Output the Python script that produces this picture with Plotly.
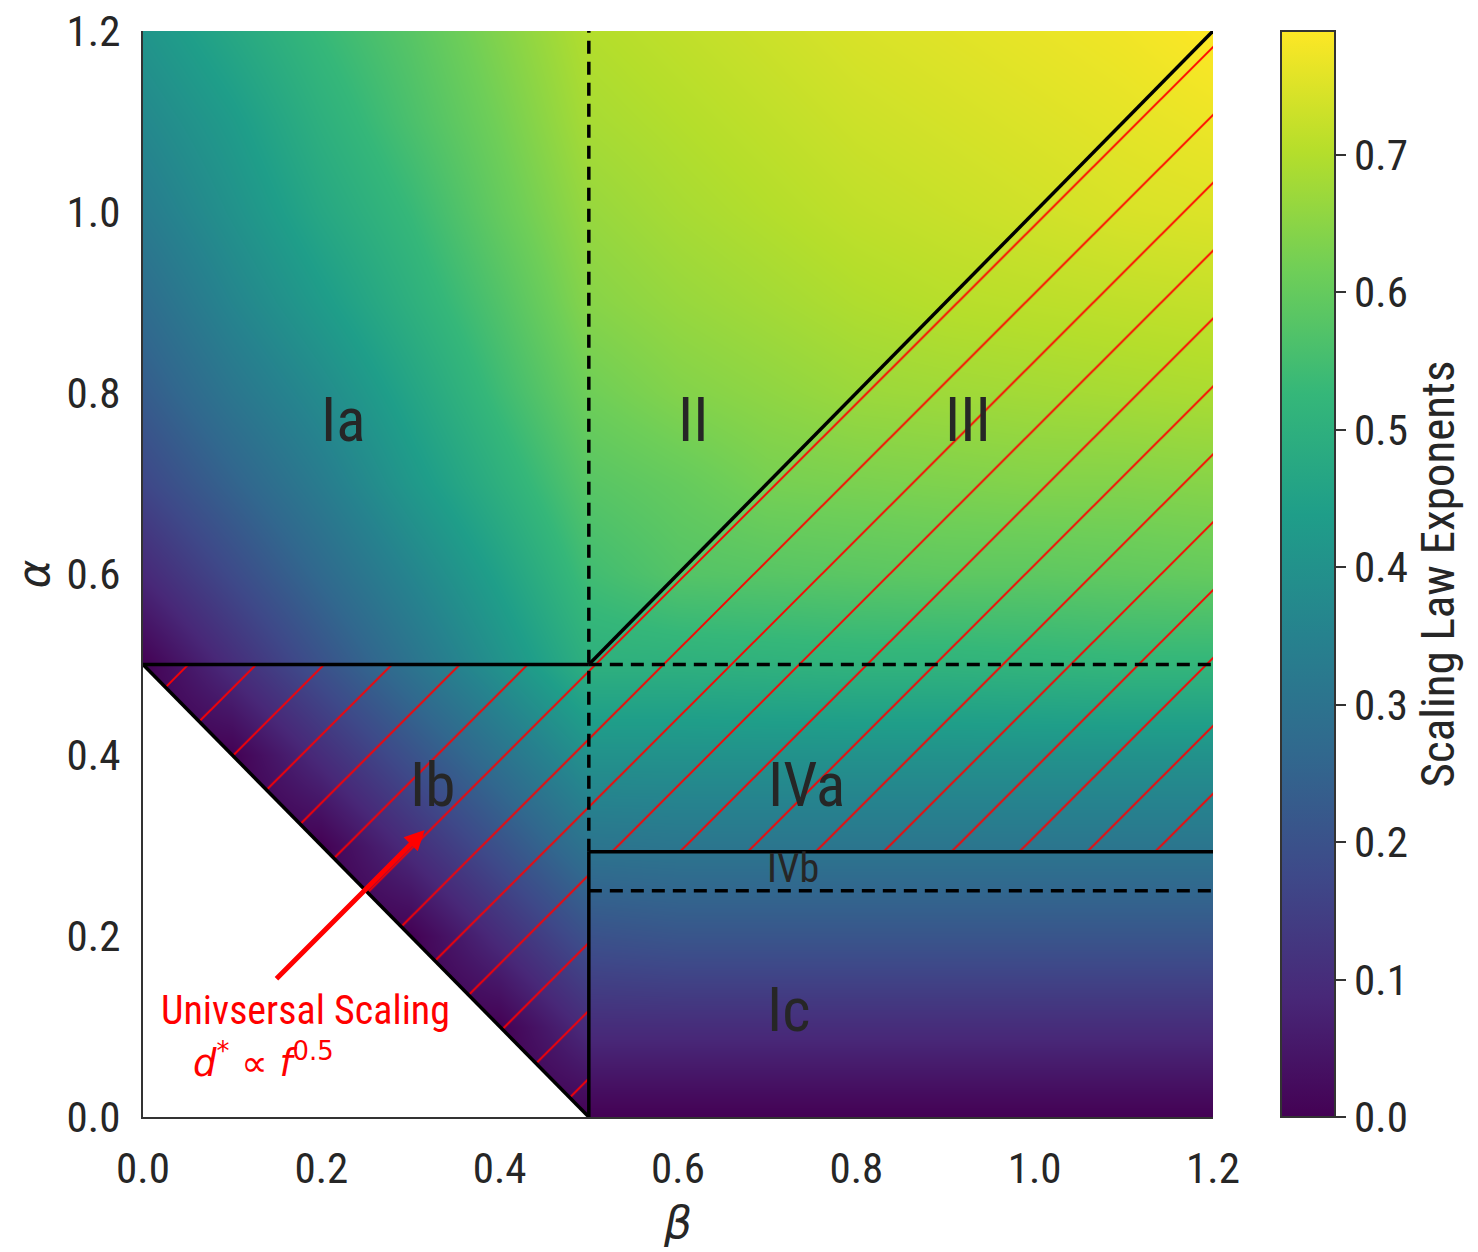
import plotly.graph_objects as go

# grid of exponent values (rows: alpha, cols: beta)
beta_grid = [0.0, 0.1, 0.2, 0.3, 0.4, 0.5, 0.6, 0.7, 0.8, 0.9, 1.0, 1.1, 1.2]
alpha_grid = [0.0, 0.1, 0.2, 0.3, 0.4, 0.5, 0.6, 0.7, 0.8, 0.9, 1.0, 1.1, 1.2]
exponent = [
    [0, 0, 0, 0, 0, 0, 0, 0, 0, 0, 0, 0, 0],
    [0, 0, 0, 0, 0, 0.10, 0.10, 0.10, 0.10, 0.10, 0.10, 0.10, 0.10],
    [0, 0, 0, 0, 0.10, 0.20, 0.21, 0.21, 0.21, 0.21, 0.21, 0.21, 0.21],
    [0, 0, 0, 0.10, 0.20, 0.305, 0.31, 0.31, 0.31, 0.31, 0.31, 0.31, 0.31],
    [0, 0, 0.10, 0.20, 0.30, 0.40, 0.40, 0.40, 0.40, 0.40, 0.40, 0.40, 0.40],
    [0, 0.10, 0.20, 0.30, 0.40, 0.50, 0.50, 0.505, 0.51, 0.51, 0.515, 0.52, 0.52],
    [0.09, 0.18, 0.27, 0.36, 0.45, 0.545, 0.575, 0.58, 0.585, 0.59, 0.59, 0.595, 0.60],
    [0.17, 0.25, 0.33, 0.42, 0.50, 0.58, 0.60, 0.625, 0.63, 0.635, 0.64, 0.64, 0.645],
    [0.23, 0.31, 0.38, 0.46, 0.54, 0.615, 0.64, 0.655, 0.67, 0.675, 0.68, 0.685, 0.69],
    [0.28, 0.36, 0.43, 0.50, 0.57, 0.645, 0.665, 0.68, 0.695, 0.705, 0.71, 0.715, 0.72],
    [0.33, 0.40, 0.47, 0.53, 0.60, 0.665, 0.685, 0.70, 0.715, 0.725, 0.735, 0.745, 0.75],
    [0.37, 0.43, 0.50, 0.56, 0.62, 0.685, 0.70, 0.715, 0.73, 0.74, 0.75, 0.76, 0.77],
    [0.41, 0.47, 0.53, 0.58, 0.64, 0.70, 0.715, 0.73, 0.745, 0.755, 0.765, 0.775, 0.79],
]
cbar_ticks = [0.0, 0.1, 0.2, 0.3, 0.4, 0.5, 0.6, 0.7]
axis_ticks = [0.0, 0.2, 0.4, 0.6, 0.8, 1.0, 1.2]

# phase boundaries (beta list, alpha list)
excluded = ([0.0, 0.5, 0.0], [0.0, 0.0, 0.5])
solid_lines = [
    ([0.0, 0.5], [0.5, 0.5]),
    ([0.0, 0.5], [0.5, 0.0]),
    ([0.5, 1.2], [0.5, 1.2]),
    ([0.5, 0.5], [0.0, 0.293]),
    ([0.5, 1.2], [0.293, 0.293]),
]
dashed_lines = [
    ([0.5, 0.5], [0.293, 1.2]),
    ([0.5, 1.2], [0.5, 0.5]),
    ([0.5, 1.2], [0.25, 0.25]),
]
hatched = [
    ([0.0, 0.5, 0.5, 0.0], [0.5, 0.5, 0.0, 0.5]),
    ([0.5, 1.2, 1.2, 0.5, 0.5], [0.293, 0.293, 1.2, 0.5, 0.293]),
]
region_names = ['Ia', 'II', 'III', 'Ib', 'IVa', 'IVb', 'Ic']
region_beta = [0.224, 0.617, 0.925, 0.325, 0.744, 0.729, 0.724]
region_alpha = [0.770, 0.770, 0.770, 0.367, 0.367, 0.275, 0.118]
region_size = [61, 61, 61, 61, 61, 40, 61]

FONT = 'Roboto Condensed, Liberation Sans Narrow, DejaVu Sans Condensed, Roboto, sans-serif'
MATH = 'DejaVu Sans, sans-serif'
TXT = '#262626'

fig = go.Figure()

fig.add_trace(go.Heatmap(
    x=beta_grid, y=alpha_grid, z=exponent,
    zsmooth='best', colorscale='Viridis', zmin=0, zmax=0.79,
    hoverinfo='skip',
    colorbar=dict(
        thickness=54, thicknessmode='pixels', len=1, lenmode='fraction',
        x=1.0636, xanchor='left', y=0.5, yanchor='middle', xpad=0, ypad=0,
        outlinewidth=2, outlinecolor='#333333',
        tickvals=cbar_ticks, ticktext=[f'{t:.1f}' for t in cbar_ticks],
        ticks='outside', ticklen=10, tickwidth=2, tickcolor='#333333',
        tickfont=dict(size=43, family=FONT, color=TXT),
        title=dict(text='Scaling Law Exponents', side='right',
                   font=dict(size=47, family=FONT, color=TXT)),
    ),
))

# excluded triangle
fig.add_trace(go.Scatter(
    x=excluded[0], y=excluded[1], fill='toself', fillcolor='white',
    mode='lines', line=dict(width=0), hoverinfo='skip', showlegend=False,
))

# red hatching of the universal scaling regions
for hx, hy in hatched:
    fig.add_trace(go.Scatter(
        x=hx, y=hy, fill='toself', fillcolor='rgba(255,0,0,1)',
        fillpattern=dict(shape='/', fgcolor='#ff0000', fgopacity=1,
                         bgcolor='rgba(0,0,0,0)', fillmode='replace',
                         size=48, solidity=0.04),
        mode='lines', line=dict(width=0), hoverinfo='skip', showlegend=False,
    ))

for lx, ly in solid_lines:
    fig.add_trace(go.Scatter(x=lx, y=ly, mode='lines', line=dict(color='black', width=3.5),
                             hoverinfo='skip', showlegend=False))
for lx, ly in dashed_lines:
    fig.add_trace(go.Scatter(x=lx, y=ly, mode='lines',
                             line=dict(color='black', width=3.5, dash='13px,8px'),
                             hoverinfo='skip', showlegend=False))

annotations = []
for name, bx, ay, sz in zip(region_names, region_beta, region_alpha, region_size):
    annotations.append(dict(x=bx, y=ay, xref='x', yref='y', text=name, showarrow=False,
                            font=dict(size=sz, family=FONT, color=TXT)))

# arrow + label for universal scaling
annotations.append(dict(x=0.316, y=0.317, ax=0.148, ay=0.151, xref='x', yref='y',
                        axref='x', ayref='y', text='', showarrow=True,
                        arrowhead=2, arrowsize=0.8, arrowwidth=5, arrowcolor='red'))
annotations.append(dict(x=0.182, y=0.118, xref='x', yref='y', text='Univsersal Scaling',
                        showarrow=False, font=dict(size=40, family=FONT, color='red')))
annotations.append(dict(x=0.135, y=0.062, xref='x', yref='y',
                        text='<i>d</i><sup>*</sup> ∝ <i>f</i><sup>0.5</sup>',
                        showarrow=False, font=dict(size=37, family=MATH, color='red')))

fig.update_layout(
    width=1470, height=1244,
    margin=dict(l=135, r=265, t=23, b=135),
    plot_bgcolor='white', paper_bgcolor='white',
    font=dict(family=FONT, color=TXT),
    annotations=annotations,
    xaxis=dict(
        range=[0, 1.2], tickvals=axis_ticks, ticktext=[f'{t:.1f}' for t in axis_ticks],
        showgrid=False, zeroline=False, showline=True, linecolor='#333333', linewidth=2,
        ticks='', ticklabelstandoff=12, tickfont=dict(size=43, family=FONT, color=TXT),
        automargin=False, ticklabeloverflow='allow',
        title=dict(text='<i>β</i>', standoff=16, font=dict(size=44, family=MATH, color=TXT)),
    ),
    yaxis=dict(
        range=[0, 1.2], tickvals=axis_ticks, ticktext=[f'{t:.1f}' for t in axis_ticks],
        showgrid=False, zeroline=False, showline=True, linecolor='#333333', linewidth=2,
        ticks='', ticklabelstandoff=12, tickfont=dict(size=43, family=FONT, color=TXT),
        automargin=False, ticklabeloverflow='allow',
        title=dict(text='<i>α</i>', standoff=12, font=dict(size=44, family=MATH, color=TXT)),
    ),
)

fig.write_html('out.html')
